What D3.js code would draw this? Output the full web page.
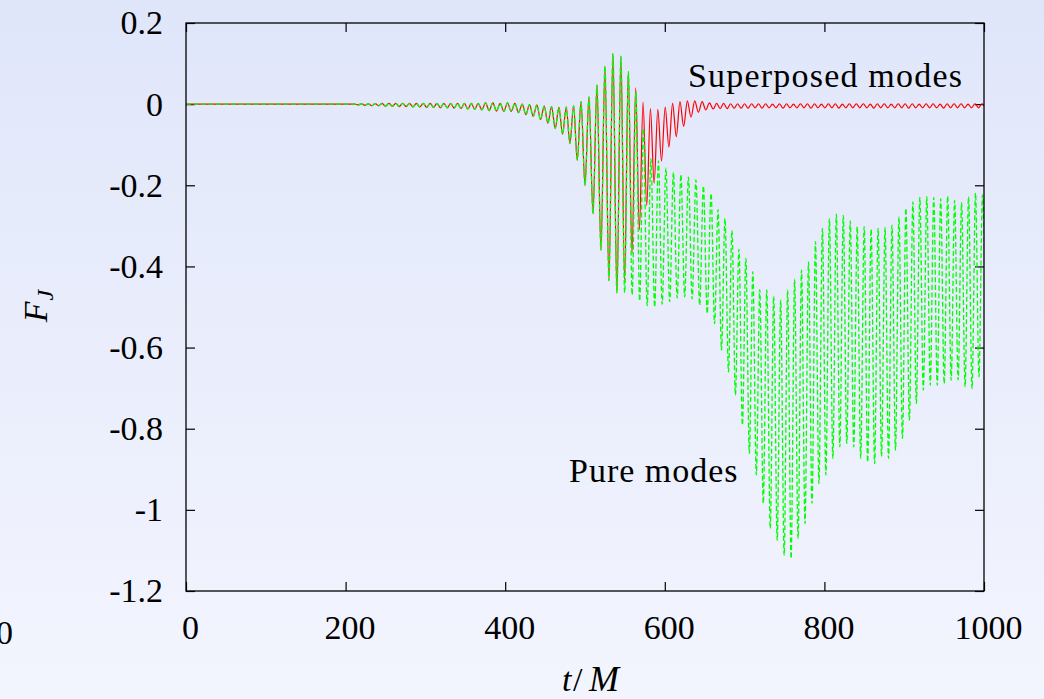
<!DOCTYPE html>
<html><head><meta charset="utf-8">
<script src="https://cdn.jsdelivr.net/npm/d3@7"></script>
<style>
html,body{margin:0;padding:0;}
body{width:1044px;height:699px;overflow:hidden;}
svg{display:block;}
text{font-family:"Liberation Serif","Times New Roman",serif;fill:#000;}
</style></head><body>
<svg id="chart" width="1044" height="699"></svg>
<script>
// ---------------- data ----------------
const xTicks = [0, 200, 400, 600, 800, 1000];
const xTickLabels = ["0", "200", "400", "600", "800", "1000"];
const yTicks = [0.2, 0, -0.2, -0.4, -0.6, -0.8, -1, -1.2];
const yTickLabels = ["0.2", "0", "-0.2", "-0.4", "-0.6", "-0.8", "-1", "-1.2"];

// flat start (both series)
const flatT = [0, 205];
const flatV = [0, 0];

// oscillating parts: peak i at start + i*period, trough i half a period later
// shared (both series coincide)
const seg1Start = 211.3, seg1Period = 8.6;
const seg1Peaks   = [0.000, 0.001, 0.001, 0.0015, 0.002, 0.002, 0.002, 0.002, 0.002, 0.002, 0.002, 0.002, 0.002, 0.002, 0.002, 0.002, 0.002, 0.002];
const seg1Troughs = [-0.002, -0.003, -0.004, -0.004, -0.005, -0.005, -0.006, -0.006, -0.007, -0.007, -0.008, -0.008, -0.009, -0.009, -0.010, -0.011, -0.012, -0.013];

const seg2Start = 366.1, seg2Period = 9.2;
const seg2Peaks   = [0.002, 0.003, 0.003, 0.002, 0.003, 0.002, 0.000, -0.001, -0.002, -0.005, -0.006, -0.008, -0.007, -0.004];
const seg2Troughs = [-0.014, -0.016, -0.017, -0.018, -0.018, -0.021, -0.026, -0.030, -0.038, -0.047, -0.060, -0.074, -0.097, -0.138];

const seg3Start = 495, seg3Period = 10;
const seg3Peaks   = [0.006, 0.018, 0.047, 0.094, 0.125];
const seg3Troughs = [-0.200, -0.270, -0.360, -0.435, -0.465];

// superposed modes (red) after the burst maximum
const redBurstStart = 545, redBurstPeriod = 9.25;
const redBurstPeaks   = [0.118, 0.080, 0.040, 0.005, -0.011, -0.013, -0.007, 0.002, 0.006, 0.008, 0.008, 0.006, 0.003];
const redBurstTroughs = [-0.435, -0.370, -0.310, -0.250, -0.195, -0.140, -0.106, -0.080, -0.055, -0.032, -0.020, -0.014, -0.012];

const redTailStart = 665, redTailPeriod = 8.75;
const redTailPeaks   = [0.002, 0.002, 0.001, 0.001, 0.001, 0.001, 0.001, 0.001, 0.000, 0.001, 0.001, 0.000, 0.001, 0.001, 0.001, 0.000, 0.001, 0.001, 0.000, 0.001, 0.001, 0.001, 0.000, 0.001, 0.001, 0.000, 0.001, 0.001, 0.001, 0.000, 0.001, 0.001, 0.000, 0.001, 0.001, 0.001, 0.000, 0.001, 0.001];
const redTailTroughs = [-0.011, -0.011, -0.010, -0.010, -0.010, -0.009, -0.010, -0.009, -0.009, -0.010, -0.009, -0.009, -0.009, -0.010, -0.009, -0.009, -0.009, -0.010, -0.009, -0.009, -0.009, -0.009, -0.010, -0.009, -0.009, -0.009, -0.009, -0.010, -0.009, -0.009, -0.009, -0.009, -0.010, -0.009, -0.009, -0.009, -0.009, -0.009, -0.009];

// pure modes (green) after the burst maximum
const greenBurstStart = 545, greenBurstPeriod = 9.4;
const greenBurstPeaks   = [0.118, 0.080, 0.030, -0.060, -0.135, -0.140, -0.158, -0.168, -0.174, -0.180, -0.187, -0.202];
const greenBurstTroughs = [-0.465, -0.470, -0.485, -0.497, -0.500, -0.493, -0.487, -0.478, -0.475, -0.480, -0.495, -0.516];

const greenTailStart = 658, greenTailPeriod = 8.72;
const greenTailPeaks   = [-0.220, -0.260, -0.282, -0.311, -0.358, -0.380, -0.413, -0.457, -0.458, -0.473, -0.483, -0.458, -0.432, -0.409, -0.389, -0.339, -0.306, -0.282, -0.271, -0.274, -0.288, -0.302, -0.302, -0.308, -0.306, -0.304, -0.298, -0.278, -0.257, -0.241, -0.230, -0.228, -0.230, -0.233, -0.227, -0.237, -0.243, -0.228, -0.219, -0.224];
const greenTailTroughs = [-0.541, -0.606, -0.660, -0.717, -0.791, -0.861, -0.914, -0.984, -1.046, -1.075, -1.112, -1.120, -1.071, -1.034, -0.984, -0.935, -0.914, -0.873, -0.845, -0.836, -0.845, -0.873, -0.882, -0.886, -0.869, -0.873, -0.853, -0.824, -0.779, -0.738, -0.705, -0.693, -0.693, -0.689, -0.680, -0.680, -0.697, -0.701, -0.672, -0.643];

// ---------------- build series ----------------
function segPoints(start, period, peaks, troughs) {
  const pts = [];
  peaks.forEach((p, i) => {
    pts.push([start + i * period, p]);
    if (i < troughs.length) pts.push([start + i * period + period / 2, troughs[i]]);
  });
  return pts;
}
const shared = flatT.map((t, i) => [t, flatV[i]])
  .concat(segPoints(seg1Start, seg1Period, seg1Peaks, seg1Troughs))
  .concat(segPoints(seg2Start, seg2Period, seg2Peaks, seg2Troughs))
  .concat(segPoints(seg3Start, seg3Period, seg3Peaks, seg3Troughs));
const redData = shared
  .concat(segPoints(redBurstStart, redBurstPeriod, redBurstPeaks, redBurstTroughs))
  .concat(segPoints(redTailStart, redTailPeriod, redTailPeaks, redTailTroughs));
const greenData = shared
  .concat(segPoints(greenBurstStart, greenBurstPeriod, greenBurstPeaks, greenBurstTroughs))
  .concat(segPoints(greenTailStart, greenTailPeriod, greenTailPeaks, greenTailTroughs));

// ---------------- drawing ----------------
const W = 1044, H = 699;
const L = 186, R = 984, T = 23, B = 591;
const svg = d3.select("#chart");
const defs = svg.append("defs");
const grad = defs.append("linearGradient").attr("id", "bg").attr("x1", 0).attr("y1", 0).attr("x2", 0).attr("y2", 1);
grad.append("stop").attr("offset", "0%").attr("stop-color", "#e0e6fa");
grad.append("stop").attr("offset", "100%").attr("stop-color", "#f3f5fe");
defs.append("clipPath").attr("id", "clip").append("rect")
  .attr("x", L).attr("y", T).attr("width", R - L).attr("height", B - T);
svg.append("rect").attr("width", W).attr("height", H).attr("fill", "url(#bg)");

const x = d3.scaleLinear().domain([0, 1000]).range([L, R]);
const y = d3.scaleLinear().domain([-1.2, 0.2]).range([B, T]);

const fs = 34;
// axes
const gL = svg.append("g").attr("transform", `translate(${L},0)`)
  .call(d3.axisLeft(y).tickValues(yTicks).tickFormat((d, i) => yTickLabels[i]).tickSize(-9).tickPadding(23));
const gB = svg.append("g").attr("transform", `translate(0,${B})`)
  .call(d3.axisBottom(x).tickValues(xTicks).tickFormat((d, i) => xTickLabels[i]).tickSize(-9).tickPadding(24));
const gT = svg.append("g").attr("transform", `translate(0,${T})`)
  .call(d3.axisTop(x).tickValues(xTicks).tickFormat("").tickSize(-9));
const gR = svg.append("g").attr("transform", `translate(${R},0)`)
  .call(d3.axisRight(y).tickValues(yTicks).tickFormat("").tickSize(-9));
[gL, gB, gT, gR].forEach(g => {
  g.select(".domain").remove();
  g.selectAll("line").attr("stroke", "#000").attr("stroke-width", 1.2);
  g.selectAll("text").style("font-family", '"Liberation Serif","Times New Roman",serif').attr("font-size", fs).attr("fill", "#000");
});
gB.selectAll("text").attr("dx", 4);

// data lines
const line = d3.line().x(d => x(d[0])).y(d => y(d[1])).curve(d3.curveMonotoneX);
const plot = svg.append("g").attr("clip-path", "url(#clip)");
plot.append("path").datum(redData).attr("d", line)
  .attr("fill", "none").attr("stroke", "#ff0000").attr("stroke-width", 1.2);
plot.append("path").datum(greenData).attr("d", line)
  .attr("fill", "none").attr("stroke", "#00ff00").attr("stroke-width", 1.3)
  .attr("stroke-dasharray", "5,2.5");

// frame
svg.append("rect").attr("x", L).attr("y", T).attr("width", R - L).attr("height", B - T)
  .attr("fill", "none").attr("stroke", "#000").attr("stroke-width", 1.3);

// stray label at the left edge
svg.append("text").attr("x", -4).attr("y", 644).attr("font-size", fs).text("0");

// series labels
svg.append("text").attr("x", 688).attr("y", 87).attr("font-size", fs)
  .attr("letter-spacing", 1.2).text("Superposed modes");
svg.append("text").attr("x", 569).attr("y", 482).attr("font-size", fs)
  .attr("letter-spacing", 1.0).text("Pure modes");

// axis titles
const yl = svg.append("text").attr("transform", "translate(47,306) rotate(-90)")
  .attr("text-anchor", "middle").attr("font-size", fs);
yl.append("tspan").attr("font-style", "italic").text("F");
yl.append("tspan").attr("font-style", "italic").attr("font-size", 24).attr("dy", 6).attr("dx", 1).text("J");

const xl = svg.append("text").attr("y", 691).attr("font-size", fs);
xl.append("tspan").attr("x", 562).attr("font-style", "italic").text("t");
xl.append("tspan").attr("x", 573).text("/");
xl.append("tspan").attr("x", 589).attr("font-style", "italic").attr("font-size", 36).text("M");
</script>
</body></html>
